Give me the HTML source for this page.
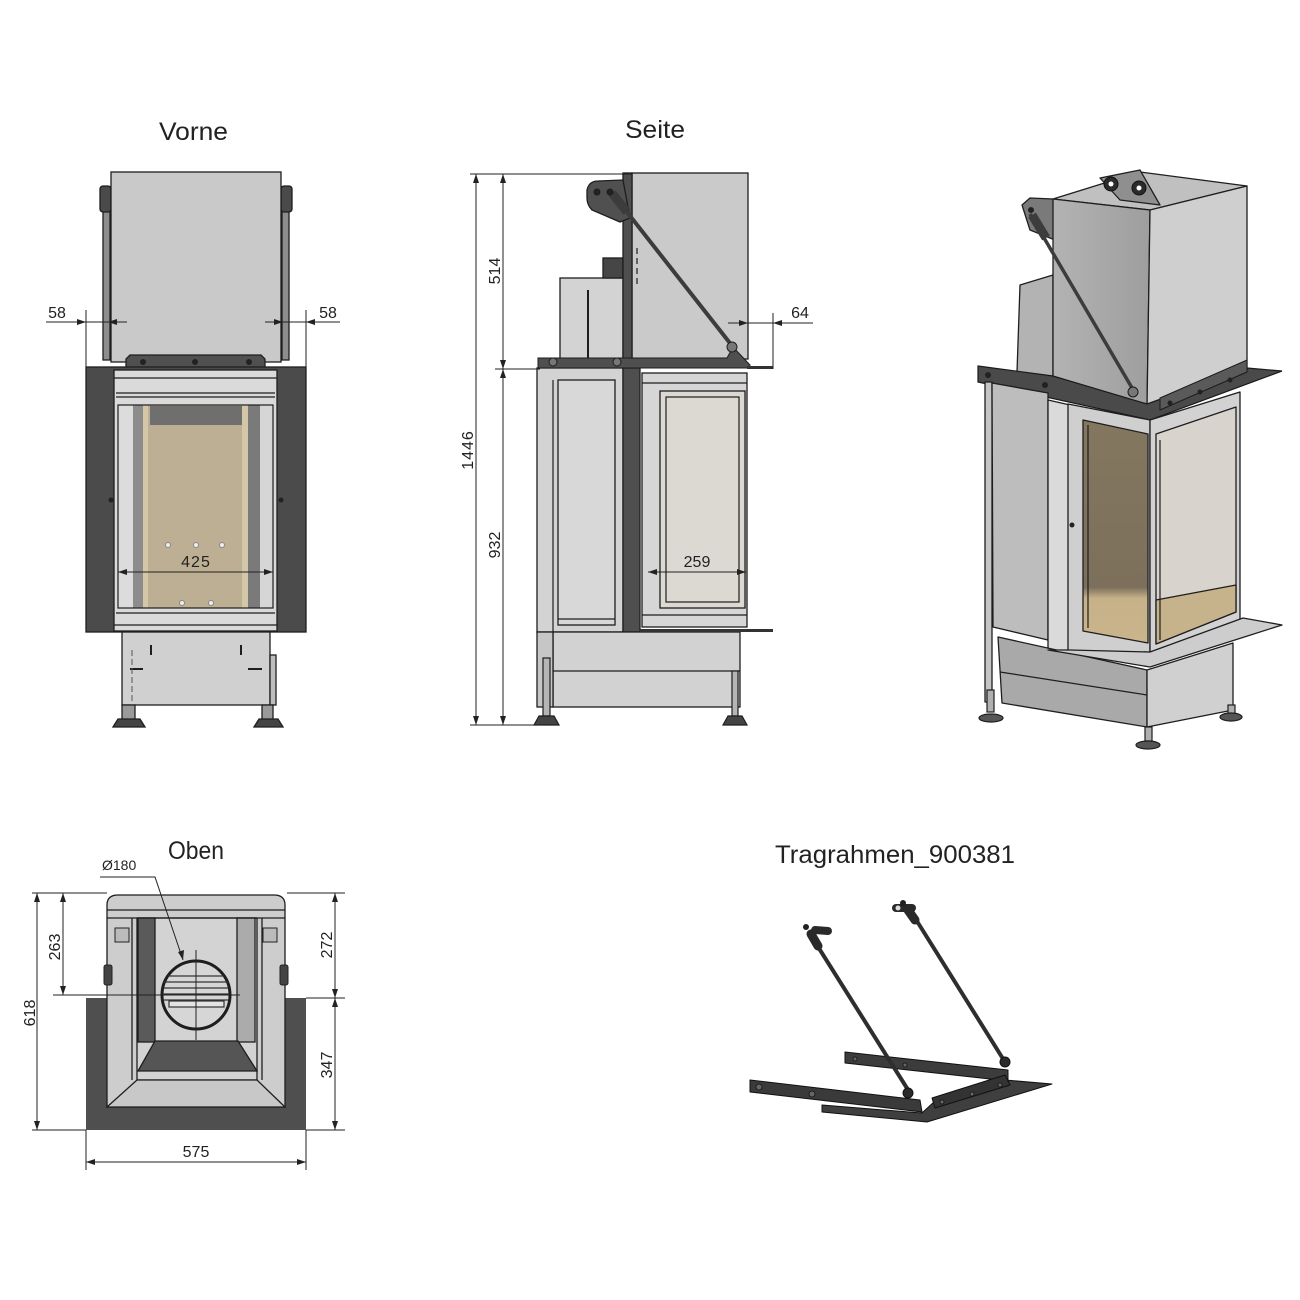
<!DOCTYPE html>
<html><head><meta charset="utf-8">
<style>
html,body{margin:0;padding:0;background:#fff;}
svg{display:block;}
text{font-family:"Liberation Sans",sans-serif;fill:#222;}
</style></head><body>
<svg width="1300" height="1300" viewBox="0 0 1300 1300" xmlns="http://www.w3.org/2000/svg">
<defs>
<linearGradient id="brown" x1="0" y1="0" x2="0" y2="1">
<stop offset="0" stop-color="#84775f"/><stop offset="0.75" stop-color="#7c705c"/><stop offset="0.8" stop-color="#c7b189"/><stop offset="1" stop-color="#c9b48c"/>
</linearGradient>
<linearGradient id="lface" x1="0" y1="0" x2="1" y2="0">
<stop offset="0" stop-color="#b3b3b3"/><stop offset="1" stop-color="#9e9e9e"/>
</linearGradient>
</defs>
<rect width="1300" height="1300" fill="#fff"/>

<!-- ================= TITLES ================= -->
<text x="159" y="140" font-size="25" textLength="69" lengthAdjust="spacingAndGlyphs">Vorne</text>
<text x="625" y="138" font-size="25" textLength="60" lengthAdjust="spacingAndGlyphs">Seite</text>
<text x="168" y="859" font-size="25" textLength="56" lengthAdjust="spacingAndGlyphs">Oben</text>
<text x="775" y="863" font-size="25" textLength="240" lengthAdjust="spacingAndGlyphs">Tragrahmen_900381</text>

<!-- ================= FRONT VIEW ================= -->
<g stroke="#1e1e1e" stroke-width="1.3">
<rect x="103" y="195" width="7" height="165" fill="#8d8d8d"/>
<rect x="282" y="195" width="7" height="165" fill="#8d8d8d"/>
<rect x="100" y="186" width="11" height="26" rx="3" fill="#4a4a4a"/>
<rect x="281" y="186" width="11" height="26" rx="3" fill="#4a4a4a"/>
<rect x="111" y="172" width="170" height="190" fill="#c9c9c9"/>
<path d="M126 369 V359 L130 355 H261 L265 359 V369Z" fill="#505050"/>
<rect x="86" y="367" width="220" height="265" fill="#4b4b4b"/>
<rect x="114" y="370" width="163" height="261" fill="#dadada"/>
</g>
<g stroke="none">
<rect x="118" y="405" width="15" height="203" fill="#dcdcdc"/>
<rect x="133" y="405" width="10" height="203" fill="#8c8c8c"/>
<rect x="143" y="405" width="5" height="203" fill="#d3c7a8"/>
<rect x="148" y="405" width="94" height="203" fill="#bcaf93"/>
<rect x="242" y="405" width="6" height="203" fill="#d3c7a8"/>
<rect x="248" y="405" width="12" height="203" fill="#7a7a7a"/>
<rect x="260" y="405" width="13" height="203" fill="#d6d6d6"/>
<rect x="150" y="406" width="92" height="19" fill="#6f6f6f"/>
</g>
<g fill="none" stroke="#1e1e1e" stroke-width="1.2">
<rect x="118" y="405" width="155" height="203"/>
<line x1="114" y1="378" x2="277" y2="378"/>
<line x1="116" y1="393" x2="275" y2="393"/>
<line x1="116" y1="397" x2="275" y2="397"/>
<line x1="116" y1="613" x2="275" y2="613"/>
<line x1="114" y1="625" x2="277" y2="625"/>
</g>
<g fill="#eee" stroke="#888" stroke-width="1">
<circle cx="168" cy="545" r="2.5"/><circle cx="196" cy="545" r="2.5"/><circle cx="222" cy="545" r="2.5"/>
<circle cx="182" cy="603" r="2.5"/><circle cx="211" cy="603" r="2.5"/>
</g>
<g fill="#222">
<circle cx="143" cy="362" r="3"/><circle cx="195" cy="362" r="3"/><circle cx="249" cy="362" r="3"/>
<circle cx="111" cy="500" r="2.5"/><circle cx="281" cy="500" r="2.5"/>
</g>
<!-- base -->
<g stroke="#1e1e1e" stroke-width="1.3">
<rect x="122" y="632" width="148" height="73" fill="#d0d0d0"/>
<rect x="270" y="655" width="6" height="50" fill="#bdbdbd"/>
<rect x="122" y="705" width="13" height="15" fill="#9a9a9a"/>
<rect x="262" y="705" width="11" height="15" fill="#9a9a9a"/>
<path d="M113 727 L118 719 H140 L145 727Z" fill="#444"/>
<path d="M254 727 L259 719 H278 L283 727Z" fill="#444"/>
</g>
<g stroke="#1e1e1e" stroke-width="2">
<line x1="151" y1="645" x2="151" y2="655"/><line x1="241" y1="645" x2="241" y2="655"/>
<line x1="130" y1="669" x2="143" y2="669"/><line x1="248" y1="669" x2="262" y2="669"/>
</g>
<line x1="132" y1="650" x2="132" y2="705" stroke="#555" stroke-dasharray="6,3"/>
<!-- front dims -->
<g stroke="#222" stroke-width="1" fill="none">
<line x1="46" y1="322" x2="127" y2="322"/>
<line x1="86" y1="310" x2="86" y2="367"/>
<line x1="265" y1="322" x2="340" y2="322"/>
<line x1="306" y1="310" x2="306" y2="367"/>
<line x1="118" y1="572" x2="273" y2="572"/>
</g>
<g fill="#222">
<polygon points="86,322 77,319 77,325"/>
<polygon points="108,322 117,319 117,325"/>
<polygon points="283,322 274,319 274,325"/>
<polygon points="306,322 315,319 315,325"/>
<polygon points="118,572 127,569 127,575"/>
<polygon points="273,572 264,569 264,575"/>
</g>
<text x="57" y="318" font-size="16" text-anchor="middle">58</text>
<text x="328" y="318" font-size="16" text-anchor="middle">58</text>
<text x="196" y="567" font-size="16" text-anchor="middle" letter-spacing="1">425</text>

<!-- ================= SIDE VIEW ================= -->
<g stroke="#1e1e1e" stroke-width="1.3">
<rect x="632" y="173" width="116" height="186" fill="#cacaca"/>
<rect x="560" y="278" width="63" height="81" fill="#d3d3d3"/>
<rect x="603" y="258" width="20" height="20" fill="#464646"/>
<rect x="623" y="173" width="9" height="190" fill="#4f4f4f"/>
<path d="M587 190 Q589 181 598 181 L623 180 L630 218 L620 222 L592 210 Q587 205 587 198Z" fill="#505050"/>
<rect x="537" y="368" width="86" height="264" fill="#d3d3d3"/>
<rect x="558" y="380" width="57" height="245" fill="#d8d8d8"/>
<rect x="623" y="368" width="17" height="264" fill="#4f4f4f"/>
<rect x="642" y="373" width="105" height="254" fill="#d6d6d6"/>
<rect x="660" y="391" width="85" height="217" fill="#dcd9d3"/>
<rect x="553" y="632" width="187" height="75" fill="#d2d2d2"/>
<rect x="537" y="632" width="16" height="75" fill="#c6c6c6"/>
</g>
<g fill="none" stroke="#1e1e1e" stroke-width="1.2">
<rect x="666" y="397" width="73" height="205"/>
<line x1="553" y1="380" x2="553" y2="632"/>
<line x1="642" y1="383" x2="747" y2="383"/>
<line x1="642" y1="615" x2="747" y2="615"/>
<line x1="553" y1="671" x2="740" y2="671"/>
<line x1="588" y1="290" x2="588" y2="358" stroke-width="2"/>
<line x1="637" y1="248" x2="637" y2="287" stroke-dasharray="6,4"/>
<line x1="558" y1="619" x2="615" y2="619"/>
</g>
<path d="M538 358 H727 L733 347 L750 365 L750 368 H538Z" fill="#4f4f4f" stroke="#1e1e1e" stroke-width="1"/>
<rect x="747" y="366" width="26" height="3" fill="#333"/>
<rect x="640" y="629" width="133" height="3" fill="#333"/>
<line x1="612" y1="193" x2="733" y2="347" stroke="#3c3c3c" stroke-width="4"/>
<line x1="612" y1="193" x2="627" y2="212" stroke="#3c3c3c" stroke-width="9"/>
<g fill="#777" stroke="#1e1e1e">
<circle cx="732" cy="347" r="5"/><circle cx="553" cy="362" r="4"/><circle cx="617" cy="362" r="4"/>
<circle cx="597" cy="192" r="3" fill="#222"/><circle cx="610" cy="192" r="3" fill="#222"/>
</g>
<g stroke="#1e1e1e" stroke-width="1.2">
<rect x="543" y="658" width="7" height="58" fill="#b5b5b5"/>
<rect x="732" y="671" width="6" height="45" fill="#b5b5b5"/>
<path d="M534 725 L539 716 H554 L559 725Z" fill="#444"/>
<path d="M723 725 L728 716 H742 L747 725Z" fill="#444"/>
</g>
<!-- side dims -->
<g stroke="#222" stroke-width="1" fill="none">
<line x1="470" y1="174" x2="632" y2="174"/>
<line x1="495" y1="369" x2="540" y2="369"/>
<line x1="470" y1="725" x2="540" y2="725"/>
<line x1="476" y1="174" x2="476" y2="725"/>
<line x1="503" y1="174" x2="503" y2="725"/>
<line x1="728" y1="323" x2="813" y2="323"/>
<line x1="773" y1="313" x2="773" y2="369"/>
<line x1="648" y1="572" x2="746" y2="572"/>
</g>
<g fill="#222">
<polygon points="476,174 473,183 479,183"/>
<polygon points="476,725 473,716 479,716"/>
<polygon points="503,174 500,183 506,183"/>
<polygon points="503,369 500,360 506,360"/>
<polygon points="503,369 500,378 506,378"/>
<polygon points="503,725 500,716 506,716"/>
<polygon points="748,323 739,320 739,326"/>
<polygon points="773,323 782,320 782,326"/>
<polygon points="648,572 657,569 657,575"/>
<polygon points="746,572 737,569 737,575"/>
</g>
<text transform="translate(473,450) rotate(-90)" font-size="16" text-anchor="middle" letter-spacing="1">1446</text>
<text transform="translate(500,271) rotate(-90)" font-size="16" text-anchor="middle">514</text>
<text transform="translate(500,545) rotate(-90)" font-size="16" text-anchor="middle">932</text>
<text x="800" y="318" font-size="16" text-anchor="middle">64</text>
<text x="697" y="567" font-size="16" text-anchor="middle">259</text>

<!-- ================= 3D VIEW ================= -->
<g stroke="#1e1e1e" stroke-width="1.3" stroke-linejoin="round">
<polygon points="1020,285 1053,275 1053,380 1017,372" fill="#b3b3b3"/>
<path d="M1022 205 L1030 198 L1053 199 L1055 240 L1030 230 Z" fill="#7a7a7a"/>
<polygon points="1053,199 1140,172 1247,186 1150,210" fill="#c0c0c0"/>
<polygon points="1100,178 1140,170 1160,205 1120,200" fill="#8f8f8f"/>
<polygon points="1053,199 1150,210 1147,408 1053,383" fill="url(#lface)"/>
<polygon points="1150,210 1247,186 1247,373 1147,408" fill="#cfcfcf"/>
</g>
<g fill="#2b2b2b" stroke="#111">
<circle cx="1111" cy="184" r="7"/><circle cx="1139" cy="188" r="7"/>
</g>
<circle cx="1111" cy="184" r="2.5" fill="#fff"/><circle cx="1139" cy="188" r="2.5" fill="#fff"/>
<circle cx="1031" cy="210" r="3" fill="#222"/>
<line x1="1030" y1="214" x2="1135" y2="393" stroke="#3c3c3c" stroke-width="3.5"/>
<line x1="1032" y1="215" x2="1046" y2="238" stroke="#3c3c3c" stroke-width="9"/>
<polygon points="978,366 1053,376 1147,404 1247,368 1282,371 1150,420 978,382" fill="#4a4a4a" stroke="#1a1a1a" stroke-width="1.2"/>
<polygon points="1160,398 1247,360 1247,372 1160,410" fill="#5a5a5a" stroke="#1a1a1a"/>
<g fill="#222"><circle cx="988" cy="375" r="3"/><circle cx="1045" cy="385" r="3"/><circle cx="1170" cy="403" r="2.5"/><circle cx="1200" cy="392" r="2.5"/><circle cx="1230" cy="380" r="2.5"/></g>
<circle cx="1133" cy="392" r="5" fill="#777" stroke="#1a1a1a"/>
<g stroke="#1e1e1e" stroke-width="1.3" stroke-linejoin="round">
<rect x="985" y="382" width="7" height="320" fill="#c5c5c5"/>
<polygon points="992,383 1048,393 1048,640 993,627" fill="#bdbdbd"/>
<polygon points="1048,400 1070,405 1070,652 1048,650" fill="#dadada"/>
<polygon points="1068,404 1150,420 1150,660 1068,652" fill="#cfcfcf"/>
<polygon points="1083,420 1148,434 1148,643 1083,631" fill="url(#brown)"/>
<polygon points="1150,420 1240,392 1240,622 1150,660" fill="#d2d2d2"/>
<polygon points="1156,434 1236,407 1236,612 1156,644" fill="#d8d4cd"/>
<polygon points="1156,600 1236,585 1236,612 1156,644" fill="#c6b28b"/>
<polygon points="998,637 1147,670 1147,727 1002,703" fill="#a9a9a9"/>
<polygon points="1147,670 1233,643 1233,710 1147,727" fill="#d0d0d0"/>
<polygon points="1048,650 1150,667 1282,625 1243,618 1150,652 1070,650" fill="#cdcdcd"/>
</g>
<g stroke="#1e1e1e" stroke-width="1.2" fill="none">
<line x1="1000" y1="672" x2="1147" y2="695"/>
<line x1="1088" y1="425" x2="1088" y2="628"/>
<line x1="1160" y1="440" x2="1160" y2="640"/>
</g>
<circle cx="1072" cy="525" r="2.5" fill="#222"/>
<g stroke="#1e1e1e" stroke-width="1.2">
<rect x="987" y="690" width="7" height="22" fill="#b0b0b0"/>
<rect x="1145" y="727" width="7" height="14" fill="#b0b0b0"/>
<rect x="1228" y="705" width="7" height="11" fill="#b0b0b0"/>
<ellipse cx="991" cy="718" rx="12" ry="4" fill="#555"/>
<ellipse cx="1148" cy="745" rx="12" ry="4" fill="#555"/>
<ellipse cx="1231" cy="717" rx="11" ry="4" fill="#555"/>
</g>

<!-- ================= TOP VIEW (OBEN) ================= -->
<rect x="86" y="998" width="220" height="132" fill="#4f4f4f"/>
<g stroke="#1e1e1e" stroke-width="1.3">
<path d="M107 905 Q107 895 118 895 H274 Q285 895 285 905 V1107 H107Z" fill="#cdcdcd"/>
<rect x="137" y="918" width="120" height="162" fill="#d3d3d3"/>
<rect x="138" y="918" width="17" height="124" fill="#5a5a5a"/>
<rect x="237" y="918" width="18" height="124" fill="#ababab"/>
<polygon points="155,1041 238,1041 257,1071 138,1071" fill="#555"/>
<polygon points="107,1107 137,1080 257,1080 285,1107" fill="#c8c8c8"/>
<line x1="107" y1="910" x2="285" y2="910"/>
<line x1="107" y1="918" x2="285" y2="918"/>
<line x1="132" y1="918" x2="132" y2="1080"/>
<line x1="262" y1="918" x2="262" y2="1080"/>
<circle cx="196" cy="995" r="34" fill="#d6d6d6" stroke-width="3"/>
</g>
<g stroke="#333" stroke-width="1.2">
<line x1="168" y1="976" x2="224" y2="976"/>
<line x1="164" y1="982" x2="228" y2="982"/>
<line x1="163" y1="988" x2="229" y2="988"/>
<line x1="163" y1="994" x2="229" y2="994"/>
<line x1="164" y1="1000" x2="228" y2="1000"/>
<rect x="169" y="1001" width="55" height="6" fill="#e3e3e3"/>
</g>
<g fill="#444" stroke="#222">
<rect x="104" y="965" width="8" height="20" rx="2"/><rect x="280" y="965" width="8" height="20" rx="2"/>
<rect x="115" y="928" width="14" height="14" fill="#bbb"/><rect x="263" y="928" width="14" height="14" fill="#bbb"/>
</g>
<g stroke="#222" stroke-width="1" fill="none">
<line x1="32" y1="893" x2="107" y2="893"/>
<line x1="287" y1="893" x2="345" y2="893"/>
<line x1="32" y1="1130" x2="86" y2="1130"/>
<line x1="306" y1="1130" x2="345" y2="1130"/>
<line x1="53" y1="995" x2="240" y2="995"/>
<line x1="306" y1="998" x2="345" y2="998"/>
<line x1="196" y1="950" x2="196" y2="1040"/>
<line x1="37" y1="893" x2="37" y2="1130"/>
<line x1="63" y1="893" x2="63" y2="995"/>
<line x1="335" y1="893" x2="335" y2="1130"/>
<line x1="86" y1="1130" x2="86" y2="1170"/>
<line x1="306" y1="1130" x2="306" y2="1170"/>
<line x1="86" y1="1162" x2="306" y2="1162"/>
<polyline points="100,877 155,877 183,960"/>
</g>
<g fill="#222">
<polygon points="37,893 34,902 40,902"/>
<polygon points="37,1130 34,1121 40,1121"/>
<polygon points="63,893 60,902 66,902"/>
<polygon points="63,995 60,986 66,986"/>
<polygon points="335,893 332,902 338,902"/>
<polygon points="335,998 332,989 338,989"/>
<polygon points="335,998 332,1007 338,1007"/>
<polygon points="335,1130 332,1121 338,1121"/>
<polygon points="86,1162 95,1159 95,1165"/>
<polygon points="306,1162 297,1159 297,1165"/>
<polygon points="183,960 178,952 184,950"/>
</g>
<text transform="translate(35,1013) rotate(-90)" font-size="16" text-anchor="middle">618</text>
<text transform="translate(60,947) rotate(-90)" font-size="16" text-anchor="middle">263</text>
<text transform="translate(332,945) rotate(-90)" font-size="16" text-anchor="middle">272</text>
<text transform="translate(332,1065) rotate(-90)" font-size="16" text-anchor="middle">347</text>
<text x="196" y="1157" font-size="16" text-anchor="middle">575</text>
<text x="102" y="870" font-size="14">Ø180</text>

<!-- ================= TRAGRAHMEN ================= -->
<g stroke="#111" stroke-width="1" stroke-linejoin="round">
<polygon points="845,1052 1008,1070 1008,1081 845,1063" fill="#3c3c3c"/>
<polygon points="822,1105 922,1113 935,1101 1005,1080 1052,1084 927,1122 822,1112" fill="#3f3f3f"/>
<polygon points="932,1098 1005,1075 1010,1085 935,1108" fill="#333"/>
<polygon points="750,1080 920,1100 922,1112 750,1092" fill="#3a3a3a"/>
</g>
<line x1="815" y1="942" x2="910" y2="1093" stroke="#2e2e2e" stroke-width="4"/>
<line x1="915" y1="918" x2="1005" y2="1062" stroke="#2e2e2e" stroke-width="4"/>
<g stroke="#2a2a2a" stroke-linecap="round">
<line x1="811" y1="934" x2="818" y2="946" stroke-width="9"/>
<line x1="815" y1="930" x2="828" y2="931" stroke-width="8"/>
<line x1="908" y1="910" x2="915" y2="920" stroke-width="9"/>
<line x1="896" y1="908" x2="912" y2="908" stroke-width="8"/>
</g>
<circle cx="806" cy="927" r="3" fill="#222"/>
<circle cx="903" cy="903" r="3" fill="#222"/>
<circle cx="898" cy="908" r="2.5" fill="#ddd"/>
<g fill="#2a2a2a" stroke="#111">
<circle cx="908" cy="1093" r="5"/><circle cx="1005" cy="1062" r="5"/>
</g>
<g fill="#666" stroke="#111" stroke-width="0.8">
<circle cx="759" cy="1087" r="3"/><circle cx="812" cy="1094" r="3"/>
<circle cx="942" cy="1102" r="2"/><circle cx="972" cy="1094" r="2"/><circle cx="1000" cy="1085" r="2"/>
<circle cx="855" cy="1059" r="2"/><circle cx="905" cy="1065" r="2"/>
</g>
</svg>
</body></html>
